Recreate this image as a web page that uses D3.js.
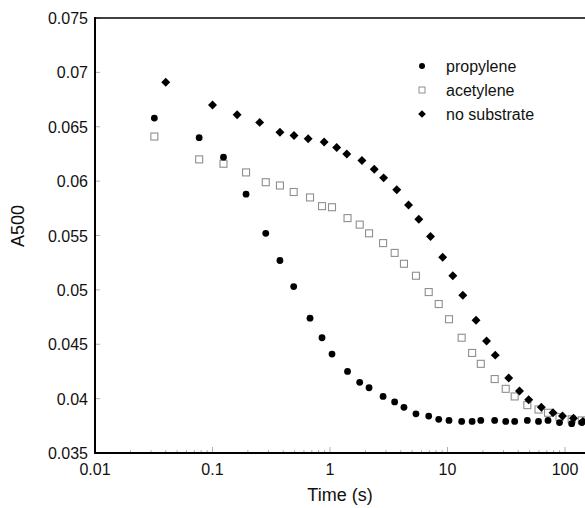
<!DOCTYPE html>
<html lang="en">
<head>
    <meta charset="UTF-8">
    <title>A500 vs time</title>
    <script type="text/javascript" src="https://cdn.jsdelivr.net/npm/d3@7"></script>
    <style type="text/css">
        body { margin: 0; background: #fff; }
        svg { display: block; font-family: "Liberation Sans", Arial, sans-serif; }
    </style>
</head>
<body>
    <script type="text/javascript">
        // time points (s) shared by propylene and acetylene runs
        var tProp = [0.032, 0.077, 0.124, 0.193, 0.284, 0.375, 0.491, 0.676, 0.855, 1.04,
            1.41, 1.79, 2.15, 2.83, 3.55, 4.26, 5.39, 6.92, 8.42, 10.3,
            13.2, 16.2, 19.2, 25.2, 31.3, 37.3, 47.8, 59.5, 71.7, 89.8, 114, 139];
        var aProp = [0.0658, 0.0640, 0.0622, 0.0588, 0.0552, 0.0527, 0.0503, 0.0474, 0.0456, 0.0441,
            0.0425, 0.0415, 0.0410, 0.0402, 0.0397, 0.0392, 0.0386, 0.0384, 0.0381, 0.0380,
            0.0379, 0.0379, 0.0380, 0.0380, 0.0379, 0.0379, 0.0380, 0.0379, 0.0380, 0.0378, 0.0377, 0.0378];
        var tAcet = tProp;
        var aAcet = [0.0641, 0.0620, 0.0616, 0.0608, 0.0599, 0.0596, 0.0590, 0.0585, 0.0577, 0.0576,
            0.0566, 0.0560, 0.0552, 0.0543, 0.0534, 0.0524, 0.0513, 0.0498, 0.0487, 0.0473,
            0.0456, 0.0442, 0.0432, 0.0418, 0.0409, 0.0402, 0.0394, 0.0390, 0.0387, 0.0383, 0.0381, 0.0380];
        var tNone = [0.040, 0.100, 0.162, 0.252, 0.375, 0.494, 0.652, 0.892, 1.14, 1.39,
            1.87, 2.38, 2.86, 3.70, 4.66, 5.70, 7.17, 9.10, 11.1, 13.5,
            17.5, 21.5, 25.5, 33.2, 41.0, 49.1, 62.9, 79.1, 95.2, 118, 142];
        var aNone = [0.0691, 0.0670, 0.0661, 0.0654, 0.0645, 0.0642, 0.0639, 0.0636, 0.0631, 0.0625,
            0.0619, 0.0611, 0.0603, 0.0592, 0.0578, 0.0565, 0.0549, 0.0530, 0.0513, 0.0495,
            0.0472, 0.0453, 0.0440, 0.0419, 0.0407, 0.0399, 0.0392, 0.0387, 0.0384, 0.0382, 0.0379];

        var seriesNames = ["propylene", "acetylene", "no substrate"];
        var yTicks = [0.035, 0.04, 0.045, 0.05, 0.055, 0.06, 0.065, 0.07, 0.075];
        var xTicks = [0.01, 0.1, 1, 10, 100];

        //Width and height
        var w = 585;
        var h = 508;
        var padL = 95, padT = 18, padB = 453;

        // log scale: 0.01 at the axis, plot runs off the right edge
        var xScale = d3.scaleLog()
            .domain([0.01, 148])
            .range([padL, w]);

        var yScale = d3.scaleLinear()
            .domain([0.035, 0.075])
            .range([padB, padT]);

        var svg = d3.select("body")
            .append("svg")
            .attr("width", w)
            .attr("height", h);

        //Minor x ticks (2..9 of each decade)
        var minor = [];
        for (var dec = 0.01; dec < 148; dec *= 10) {
            for (var k = 2; k <= 9; k++) {
                if (dec * k < 148) minor.push(dec * k);
            }
        }
        svg.selectAll(".xminor")
            .data(minor)
            .enter()
            .append("line")
            .attr("x1", function(d) { return xScale(d); })
            .attr("x2", function(d) { return xScale(d); })
            .attr("y1", padB)
            .attr("y2", padB - 3)
            .attr("stroke", "#b0b0b0");

        svg.selectAll(".xmajor")
            .data(xTicks)
            .enter()
            .append("line")
            .attr("x1", function(d) { return xScale(d); })
            .attr("x2", function(d) { return xScale(d); })
            .attr("y1", padB)
            .attr("y2", padB - 6)
            .attr("stroke", "#b0b0b0");

        svg.selectAll(".ytick")
            .data(yTicks)
            .enter()
            .append("line")
            .attr("x1", padL)
            .attr("x2", padL + 5)
            .attr("y1", function(d) { return yScale(d); })
            .attr("y2", function(d) { return yScale(d); })
            .attr("stroke", "#b0b0b0");

        //Tick labels
        svg.selectAll(".ylab")
            .data(yTicks)
            .enter()
            .append("text")
            .text(function(d) { return d3.format("")(d); })
            .attr("x", padL - 7)
            .attr("y", function(d) { return yScale(d) + 6; })
            .attr("text-anchor", "end")
            .attr("font-size", "16px")
            .attr("fill", "#111");

        svg.selectAll(".xlab")
            .data(xTicks)
            .enter()
            .append("text")
            .text(function(d) { return d3.format("")(d); })
            .attr("x", function(d) { return xScale(d); })
            .attr("y", 475)
            .attr("text-anchor", "middle")
            .attr("font-size", "16px")
            .attr("fill", "#111");

        //Axis lines
        svg.append("line")
            .attr("x1", padL).attr("x2", w)
            .attr("y1", padT).attr("y2", padT)
            .attr("stroke", "#000").attr("stroke-width", 1.5);
        svg.append("line")
            .attr("x1", padL).attr("x2", w)
            .attr("y1", padB).attr("y2", padB)
            .attr("stroke", "#000").attr("stroke-width", 2);
        svg.append("line")
            .attr("x1", padL).attr("x2", padL)
            .attr("y1", padT - 1).attr("y2", padB + 1)
            .attr("stroke", "#000").attr("stroke-width", 2);

        //Axis titles
        svg.append("text")
            .text("Time (s)")
            .attr("x", 340)
            .attr("y", 501)
            .attr("text-anchor", "middle")
            .attr("font-size", "18px")
            .attr("fill", "#111");
        svg.append("text")
            .text("A500")
            .attr("transform", "translate(24,226) rotate(-90)")
            .attr("text-anchor", "middle")
            .attr("font-size", "18px")
            .attr("fill", "#111");

        var diamond = d3.symbol().type(d3.symbolSquare);

        //acetylene: open grey squares
        svg.selectAll(".acet")
            .data(d3.zip(tAcet, aAcet))
            .enter()
            .append("rect")
            .attr("x", function(d) { return xScale(d[0]) - 3.5; })
            .attr("y", function(d) { return yScale(d[1]) - 3.5; })
            .attr("width", 7)
            .attr("height", 7)
            .attr("fill", "white")
            .attr("stroke", "#8f8f8f")
            .attr("stroke-width", 1.1);

        //no substrate: filled diamonds
        svg.selectAll(".none")
            .data(d3.zip(tNone, aNone))
            .enter()
            .append("path")
            .attr("d", diamond.size(40))
            .attr("transform", function(d) {
                return "translate(" + xScale(d[0]) + "," + yScale(d[1]) + ") rotate(45)";
            })
            .attr("fill", "#000");

        //propylene: filled circles
        svg.selectAll(".prop")
            .data(d3.zip(tProp, aProp))
            .enter()
            .append("circle")
            .attr("cx", function(d) { return xScale(d[0]); })
            .attr("cy", function(d) { return yScale(d[1]); })
            .attr("r", 3.4)
            .attr("fill", "#000");

        //Legend
        var lx = 422, ly = 66, step = 24;
        var lg = svg.append("g");
        lg.append("circle")
            .attr("cx", lx).attr("cy", ly).attr("r", 3).attr("fill", "#000");
        lg.append("rect")
            .attr("x", lx - 3).attr("y", ly + step - 3)
            .attr("width", 6).attr("height", 6)
            .attr("fill", "white").attr("stroke", "#8f8f8f");
        lg.append("path")
            .attr("d", diamond.size(30))
            .attr("transform", "translate(" + lx + "," + (ly + 2 * step) + ") rotate(45)")
            .attr("fill", "#000");
        lg.selectAll("text")
            .data(seriesNames)
            .enter()
            .append("text")
            .text(function(d) { return d; })
            .attr("x", 446)
            .attr("y", function(d, i) { return ly + 6 + i * step; })
            .attr("font-size", "16px")
            .attr("fill", "#111");
    </script>
</body>
</html>
